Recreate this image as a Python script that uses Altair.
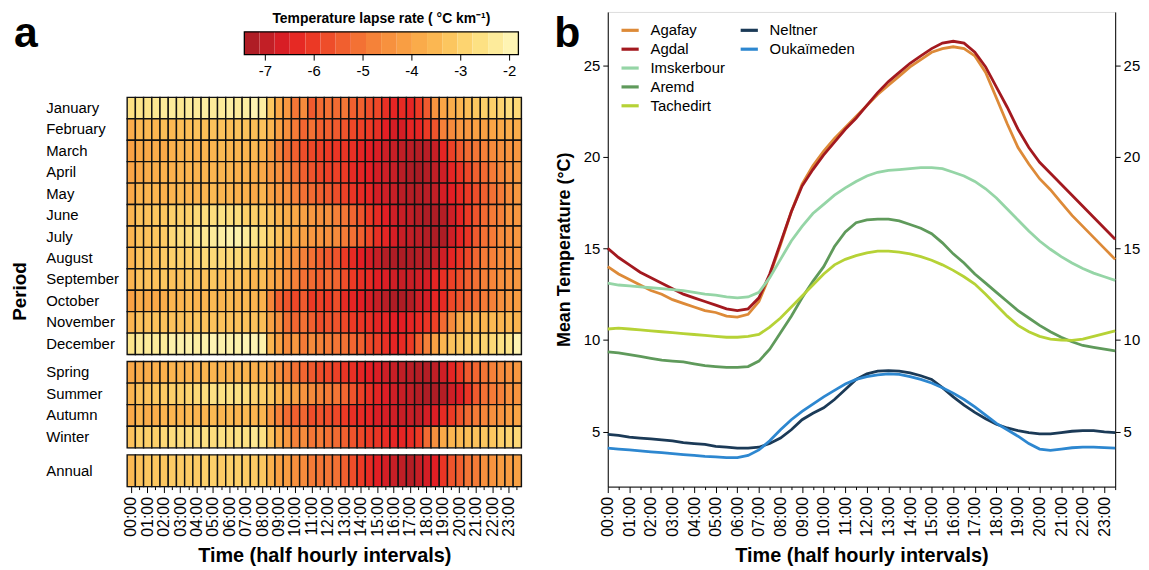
import altair as alt
import pandas as pd

FONT = "Liberation Sans"

# ---------------- Panel a: lapse-rate heat map ----------------
times = ["00:00","00:30","01:00","01:30","02:00","02:30","03:00","03:30","04:00","04:30",
         "05:00","05:30","06:00","06:30","07:00","07:30","08:00","08:30","09:00","09:30",
         "10:00","10:30","11:00","11:30","12:00","12:30","13:00","13:30","14:00","14:30",
         "15:00","15:30","16:00","16:30","17:00","17:30","18:00","18:30","19:00","19:30",
         "20:00","20:30","21:00","21:30","22:00","22:30","23:00","23:30"]

months = ["January","February","March","April","May","June","July","August",
          "September","October","November","December"]
seasons = ["Spring","Summer","Autumn","Winter"]
annual = ["Annual"]

lapse = {
 "January":  [-2.6,-2.5,-2.5,-2.4,-2.3,-2.3,-2.4,-2.3,-2.3,-2.2,-2.3,-2.3,-2.2,-2.3,-2.2,-2.0,-2.2,-3.2,-3.9,-4.3,-5.0,-4.6,-5.5,-5.2,-5.1,-5.2,-5.0,-5.4,-5.4,-5.7,-5.8,-6.2,-6.4,-6.3,-6.4,-6.0,-5.5,-4.4,-4.0,-3.8,-3.6,-3.4,-3.2,-3.0,-3.0,-2.9,-2.7,-2.8],
 "February": [-3.8,-3.5,-3.5,-3.6,-3.4,-3.5,-3.4,-3.4,-3.3,-3.4,-3.3,-3.3,-3.4,-3.3,-3.3,-3.4,-3.3,-3.6,-4.1,-4.5,-4.9,-5.3,-5.1,-5.4,-5.4,-5.5,-5.6,-5.8,-5.9,-6.0,-6.2,-6.5,-6.7,-6.7,-6.4,-6.4,-6.0,-5.6,-4.8,-4.6,-4.3,-4.3,-4.1,-4.1,-4.0,-3.9,-3.8,-3.8],
 "March":    [-4.1,-3.9,-3.9,-3.8,-3.9,-3.7,-3.6,-3.6,-3.7,-3.6,-3.6,-3.5,-3.6,-3.6,-3.6,-3.5,-3.7,-4.2,-4.8,-5.2,-5.4,-5.7,-5.8,-5.9,-6.0,-6.1,-6.1,-6.2,-6.4,-6.5,-6.6,-6.8,-6.9,-7.0,-7.1,-7.2,-7.1,-6.9,-6.4,-5.9,-5.5,-5.2,-5.0,-4.8,-4.6,-4.5,-4.4,-4.3],
 "April":    [-4.0,-3.9,-3.8,-3.8,-3.7,-3.7,-3.6,-3.6,-3.6,-3.6,-3.6,-3.6,-3.6,-3.7,-3.7,-3.8,-3.9,-4.3,-4.5,-4.8,-5.1,-5.4,-5.6,-5.8,-5.9,-5.9,-6.0,-6.3,-6.4,-6.5,-6.7,-6.8,-6.9,-7.1,-7.3,-7.4,-7.2,-7.0,-6.8,-6.4,-6.1,-5.8,-5.4,-5.2,-4.9,-4.7,-4.5,-4.3],
 "May":      [-3.9,-3.6,-3.6,-3.6,-3.7,-3.6,-3.5,-3.6,-3.6,-3.6,-3.5,-3.6,-3.6,-3.7,-3.7,-3.9,-3.6,-4.1,-4.3,-4.5,-4.8,-5.1,-5.2,-5.4,-5.5,-5.7,-5.9,-6.1,-6.3,-6.4,-6.7,-6.8,-6.9,-7.1,-7.2,-7.2,-7.1,-7.0,-6.7,-6.5,-6.3,-6.0,-5.7,-5.4,-5.1,-4.9,-4.6,-4.3],
 "June":     [-3.6,-3.3,-3.3,-3.2,-3.2,-3.0,-3.0,-3.0,-2.8,-2.7,-2.7,-2.6,-2.7,-2.7,-3.0,-3.0,-3.1,-3.3,-3.6,-3.8,-3.9,-4.1,-4.3,-4.5,-4.5,-4.8,-5.0,-5.3,-5.6,-6.0,-6.3,-6.5,-6.8,-6.9,-7.0,-7.2,-7.3,-7.3,-7.2,-6.8,-6.4,-6.0,-5.6,-5.2,-4.9,-4.8,-4.4,-4.3],
 "July":     [-3.6,-3.3,-3.3,-3.2,-3.1,-2.8,-2.7,-2.7,-2.5,-2.4,-2.3,-2.2,-2.1,-2.1,-2.3,-2.5,-2.7,-3.0,-3.3,-3.6,-3.9,-4.1,-4.3,-4.4,-4.5,-4.6,-4.9,-5.1,-5.4,-5.8,-6.2,-6.4,-6.7,-6.9,-7.0,-7.1,-7.2,-7.3,-7.3,-6.8,-6.4,-6.1,-5.5,-5.1,-4.9,-4.6,-4.5,-4.3],
 "August":   [-3.6,-3.3,-3.3,-3.3,-3.1,-3.0,-3.0,-3.0,-2.9,-2.8,-2.8,-2.8,-2.8,-2.8,-2.9,-3.0,-3.2,-3.6,-3.9,-4.3,-4.5,-4.8,-5.1,-5.4,-5.5,-5.6,-6.0,-6.3,-6.5,-6.7,-6.9,-7.2,-7.3,-7.3,-7.3,-7.2,-7.2,-7.0,-6.8,-6.4,-6.1,-5.8,-5.3,-4.9,-4.8,-4.6,-4.5,-4.4],
 "September":[-3.6,-3.3,-3.3,-3.3,-3.2,-3.3,-3.3,-3.2,-3.3,-3.3,-3.2,-3.3,-3.3,-3.3,-3.4,-3.6,-3.4,-3.9,-4.1,-4.5,-4.8,-5.1,-5.2,-5.4,-5.2,-5.3,-5.7,-6.0,-6.2,-6.3,-6.5,-6.6,-6.8,-6.9,-6.9,-6.8,-6.7,-6.4,-6.2,-5.9,-5.7,-5.4,-5.1,-4.8,-4.7,-4.5,-4.4,-4.3],
 "October":  [-4.1,-3.8,-3.9,-3.9,-3.8,-3.6,-3.6,-3.5,-3.6,-3.6,-3.5,-3.6,-3.5,-3.6,-3.5,-3.6,-3.7,-4.7,-5.4,-5.6,-5.8,-5.5,-6.0,-5.9,-6.0,-5.7,-6.3,-6.4,-6.5,-6.7,-6.9,-7.1,-7.3,-7.3,-7.2,-6.8,-6.7,-6.4,-6.3,-5.8,-5.6,-5.4,-5.2,-4.9,-4.8,-4.5,-4.3,-4.2],
 "November": [-3.6,-3.3,-3.3,-3.3,-3.3,-3.3,-3.3,-3.3,-3.2,-3.3,-3.3,-3.3,-3.3,-3.3,-3.3,-3.3,-3.4,-4.1,-4.5,-5.1,-5.3,-5.1,-5.4,-5.7,-5.6,-5.6,-5.8,-6.0,-6.1,-6.2,-6.4,-6.4,-6.5,-6.5,-6.4,-6.3,-6.1,-5.9,-5.2,-4.6,-3.9,-3.8,-3.6,-3.6,-3.5,-3.6,-3.5,-3.6],
 "December": [-2.5,-2.3,-2.3,-2.3,-2.3,-2.1,-2.1,-2.1,-2.2,-2.1,-2.0,-2.1,-2.1,-2.1,-2.0,-2.0,-2.1,-3.6,-4.1,-4.6,-4.3,-4.9,-4.6,-4.8,-4.9,-5.0,-5.1,-5.3,-5.4,-5.8,-5.9,-6.2,-6.4,-6.3,-6.0,-5.4,-4.8,-4.1,-3.6,-3.3,-3.2,-3.1,-3.0,-2.9,-2.8,-2.6,-2.5,-2.0],
 "Spring":   [-3.9,-3.8,-3.8,-3.7,-3.7,-3.6,-3.6,-3.6,-3.6,-3.6,-3.6,-3.6,-3.6,-3.6,-3.6,-3.7,-3.7,-4.1,-4.5,-4.8,-5.1,-5.3,-5.5,-5.7,-5.8,-5.9,-6.1,-6.2,-6.4,-6.5,-6.6,-6.8,-6.9,-7.0,-7.1,-7.2,-7.2,-7.0,-6.8,-6.4,-6.0,-5.5,-5.3,-5.0,-4.8,-4.6,-4.5,-4.3],
 "Summer":   [-3.6,-3.3,-3.3,-3.2,-3.1,-3.0,-3.0,-2.9,-2.8,-2.7,-2.6,-2.6,-2.6,-2.6,-2.7,-2.9,-3.0,-3.2,-3.6,-3.9,-4.1,-4.4,-4.6,-4.8,-4.9,-5.0,-5.3,-5.6,-5.9,-6.2,-6.4,-6.6,-6.8,-6.9,-7.0,-7.2,-7.3,-7.3,-7.2,-6.8,-6.6,-6.1,-5.5,-5.1,-4.9,-4.8,-4.5,-4.4],
 "Autumn":   [-3.9,-3.6,-3.8,-3.8,-3.6,-3.6,-3.6,-3.5,-3.6,-3.6,-3.5,-3.6,-3.5,-3.6,-3.5,-3.6,-3.6,-4.3,-4.8,-5.2,-5.4,-5.3,-5.7,-5.6,-5.7,-5.8,-6.0,-6.2,-6.3,-6.4,-6.6,-6.7,-6.8,-6.9,-6.9,-7.0,-6.7,-6.6,-6.3,-6.0,-5.6,-5.2,-4.9,-4.7,-4.5,-4.4,-4.2,-4.0],
 "Winter":   [-3.3,-3.0,-3.0,-3.0,-2.8,-2.7,-2.7,-2.7,-2.7,-2.6,-2.7,-2.6,-2.7,-2.6,-2.6,-2.4,-2.6,-3.3,-3.9,-4.3,-4.8,-4.6,-5.0,-4.9,-5.1,-5.2,-5.4,-5.6,-5.8,-6.0,-6.1,-6.3,-6.4,-6.4,-6.3,-6.0,-5.2,-4.5,-3.9,-3.6,-3.5,-3.4,-3.3,-3.2,-3.2,-3.0,-2.9,-2.8],
 "Annual":   [-3.5,-3.3,-3.2,-3.2,-3.2,-3.1,-3.1,-3.1,-3.1,-3.0,-3.0,-3.1,-3.0,-3.0,-3.1,-3.1,-3.2,-3.7,-4.1,-4.2,-4.5,-4.6,-4.9,-5.0,-5.0,-5.1,-5.4,-5.7,-6.0,-6.3,-6.5,-6.7,-6.9,-7.0,-7.2,-6.9,-6.7,-6.5,-6.1,-5.6,-5.4,-5.0,-4.9,-4.5,-4.4,-4.2,-4.2,-4.1],
}

# colour key (stepped bar), its ticks and labels
legend_lo = [-7.43,-7.12,-6.81,-6.50,-6.18,-5.87,-5.56,-5.25,-4.94,-4.63,-4.31,-4.00,-3.69,-3.38,-3.07,-2.76,-2.44,-2.13]
legend_hi = [-7.12,-6.81,-6.50,-6.18,-5.87,-5.56,-5.25,-4.94,-4.63,-4.31,-4.00,-3.69,-3.38,-3.07,-2.76,-2.44,-2.13,-1.82]
legend_mid = [-7.28,-6.97,-6.66,-6.34,-6.03,-5.72,-5.41,-5.10,-4.78,-4.47,-4.16,-3.85,-3.54,-3.22,-2.91,-2.60,-2.29,-1.98]
legend_ticks = [-7, -6, -5, -4, -3, -2]
legend_tick_labels = ["-7", "-6", "-5", "-4", "-3", "-2"]
legend_title = "Temperature lapse rate ( °C km⁻¹)"

color_domain = [-7.43, -7.0, -6.5, -6.0, -5.5, -5.0, -4.5, -4.0, -3.5, -3.0, -2.5, -1.82]
color_range = ["#a61c24", "#c01f26", "#e31e24", "#ec3a25", "#f05a2e", "#f47636",
               "#f7903e", "#faa546", "#fbb953", "#fdd06a", "#fde58a", "#fff8c0"]

# ---------------- Panel b: mean temperature lines ----------------
hours = [0.0,0.5,1.0,1.5,2.0,2.5,3.0,3.5,4.0,4.5,5.0,5.5,6.0,6.5,7.0,7.5,8.0,8.5,9.0,9.5,
         10.0,10.5,11.0,11.5,12.0,12.5,13.0,13.5,14.0,14.5,15.0,15.5,16.0,16.5,17.0,17.5,
         18.0,18.5,19.0,19.5,20.0,20.5,21.0,21.5,22.0,22.5,23.0,23.5]
temp_ticks = [5, 10, 15, 20, 25]

stations1 = ["Agafay", "Agdal", "Imskerbour", "Aremd", "Tachedirt"]
colors1 = ["#dd8a38", "#a3191f", "#95d5a6", "#5f9a5b", "#b6d236"]
stations2 = ["Neltner", "Oukaïmeden"]
colors2 = ["#1b3a57", "#2d87d0"]

temps = {
 "Agafay":     [14.0,13.6,13.3,13.0,12.7,12.5,12.2,12.0,11.8,11.6,11.5,11.3,11.25,11.4,12.1,13.5,15.2,17.0,18.5,19.5,20.3,21.0,21.6,22.2,22.8,23.4,23.9,24.4,24.9,25.3,25.7,25.9,26.0,25.9,25.5,24.6,23.2,21.8,20.5,19.6,18.8,18.2,17.5,16.8,16.2,15.6,15.0,14.4],
 "Agdal":      [15.0,14.5,14.1,13.7,13.4,13.1,12.8,12.5,12.3,12.1,11.9,11.7,11.6,11.7,12.3,13.6,15.3,17.0,18.4,19.3,20.1,20.8,21.5,22.1,22.8,23.5,24.1,24.6,25.1,25.5,25.9,26.2,26.3,26.2,25.7,24.9,23.8,22.7,21.5,20.5,19.7,19.1,18.5,17.9,17.3,16.7,16.1,15.5],
 "Imskerbour": [13.1,13.0,12.95,12.9,12.85,12.8,12.75,12.7,12.6,12.5,12.45,12.35,12.3,12.35,12.6,13.4,14.4,15.4,16.2,16.9,17.4,17.9,18.3,18.65,18.95,19.15,19.25,19.3,19.35,19.4,19.4,19.35,19.15,18.95,18.65,18.25,17.75,17.15,16.55,15.95,15.4,14.95,14.55,14.2,13.9,13.65,13.45,13.25],
 "Aremd":      [9.35,9.3,9.2,9.1,9.0,8.9,8.85,8.8,8.7,8.6,8.55,8.5,8.5,8.55,8.85,9.5,10.4,11.3,12.3,13.2,14.0,15.1,15.9,16.4,16.55,16.6,16.6,16.5,16.3,16.1,15.8,15.3,14.7,14.2,13.6,13.1,12.6,12.1,11.6,11.2,10.8,10.45,10.15,9.9,9.7,9.6,9.5,9.4],
 "Tachedirt":  [10.6,10.65,10.6,10.55,10.5,10.45,10.4,10.35,10.3,10.25,10.2,10.15,10.15,10.2,10.3,10.7,11.2,11.8,12.4,13.0,13.6,14.1,14.4,14.6,14.75,14.85,14.85,14.8,14.7,14.55,14.35,14.1,13.8,13.45,13.05,12.5,11.9,11.3,10.8,10.45,10.2,10.05,10.0,9.98,10.05,10.2,10.35,10.5],
 "Neltner":    [4.85,4.8,4.7,4.65,4.6,4.55,4.5,4.4,4.35,4.3,4.2,4.15,4.1,4.1,4.15,4.35,4.65,5.1,5.65,6.0,6.3,6.75,7.3,7.85,8.15,8.3,8.33,8.3,8.2,8.05,7.85,7.4,6.9,6.45,6.05,5.7,5.4,5.2,5.05,4.95,4.88,4.88,4.95,5.02,5.05,5.05,4.98,4.95],
 "Oukaïmeden": [4.1,4.05,4.0,3.95,3.9,3.85,3.8,3.75,3.7,3.65,3.62,3.58,3.58,3.7,4.0,4.5,5.1,5.65,6.1,6.5,6.9,7.25,7.6,7.85,8.0,8.1,8.15,8.12,8.0,7.85,7.65,7.4,7.1,6.75,6.35,5.9,5.45,5.1,4.75,4.35,4.05,3.98,4.05,4.12,4.15,4.15,4.13,4.1],
}

for k, v in lapse.items():
    assert len(v) == 48, (k, len(v))
for k, v in temps.items():
    assert len(v) == 48, (k, len(v))

# ---------------- build tables ----------------
def heat_df(rows):
    recs = []
    for r in rows:
        for t, val in zip(times, lapse[r]):
            recs.append({"period": r, "time": t, "value": val})
    return pd.DataFrame(recs)

def line_df(names):
    recs = []
    for s in names:
        for h, val in zip(hours, temps[s]):
            recs.append({"station": s, "hour": h, "temp": val})
    return pd.DataFrame(recs)

color_scale = alt.Scale(domain=color_domain, range=color_range, clamp=True)
HEAT_W = 397
LABEL_PAD = 82
XTITLE = 20
TLAB = 16
PANEL_LETTER = 43

hour_label_expr = "slice(datum.value, 3) == '00' ? datum.value : ''"
tick_cond_heat = {"condition": {"test": "slice(datum.value, 3) == '00'", "value": 6}, "value": 3}


def heat_chart(rows, height, xaxis, yaxis):
    return alt.Chart(heat_df(rows)).mark_rect(stroke="#111111", strokeWidth=1.4).encode(
        x=alt.X("time:O", sort=times, scale=alt.Scale(paddingInner=0, paddingOuter=0), axis=xaxis),
        y=alt.Y("period:O", sort=rows, scale=alt.Scale(paddingInner=0, paddingOuter=0), axis=yaxis),
        color=alt.Color("value:Q", scale=color_scale, legend=None),
    ).properties(width=HEAT_W, height=height)


ylab = dict(labelAlign="left", labelPadding=LABEL_PAD, ticks=False, domain=False,
            labelFontSize=15, labelFont=FONT, labelColor="black")

# --- colour key chart (top of panel a) ---
key_x = alt.Scale(domain=[-7.43, -1.82], range=[118, 394], nice=False, zero=False)
key_bands = pd.DataFrame({"lo": legend_lo, "hi": legend_hi, "mid": legend_mid})
key_frame = pd.DataFrame({"lo": [legend_lo[0]], "hi": [legend_hi[-1]]})
key_ticks = pd.DataFrame({"v": legend_ticks, "lab": legend_tick_labels})

bands = alt.Chart(key_bands).mark_rect().encode(
    x=alt.X("lo:Q", scale=key_x, axis=None), x2="hi:Q",
    y=alt.value(20), y2=alt.value(43),
    color=alt.Color("mid:Q", scale=color_scale, legend=None),
)
frame = alt.Chart(key_frame).mark_rect(fillOpacity=0, stroke="black", strokeWidth=1.3).encode(
    x=alt.X("lo:Q", scale=key_x, axis=None), x2="hi:Q", y=alt.value(20), y2=alt.value(43))
kticks = alt.Chart(key_ticks).mark_rule(color="black", strokeWidth=1).encode(
    x=alt.X("v:Q", scale=key_x, axis=None), y=alt.value(43), y2=alt.value(49))
klabels = alt.Chart(key_ticks).mark_text(font=FONT, fontSize=15, color="black", baseline="middle").encode(
    x=alt.X("v:Q", scale=key_x, axis=None), y=alt.value(60), text="lab:N")
ktitle = alt.Chart(pd.DataFrame({"t": [legend_title]})).mark_text(
    font=FONT, fontSize=14, fontWeight="bold", color="black", baseline="middle").encode(
    x=alt.value(256), y=alt.value(7), text="t:N")
a_label = alt.Chart(pd.DataFrame({"t": ["a"]})).mark_text(
    font=FONT, fontSize=PANEL_LETTER, fontWeight="bold", align="left", baseline="alphabetic", color="black"
).encode(x=alt.value(-114), y=alt.value(35), text="t:N")

key_chart = alt.layer(bands, frame, kticks, klabels, ktitle, a_label).properties(
    width=HEAT_W, height=80, view={"stroke": "transparent"})

months_chart = heat_chart(
    months, 259, None,
    alt.Axis(title="Period", titleX=-98, titleY=195, titleFont=FONT, titleFontSize=19,
             titleFontWeight="bold", titleColor="black", **ylab),
)
seasons_chart = heat_chart(seasons, 87, None, alt.Axis(title=None, **ylab))
annual_chart = heat_chart(
    annual, 32,
    alt.Axis(title="Time (half hourly intervals)", labelAngle=270, labelExpr=hour_label_expr,
             tickSize=tick_cond_heat, tickColor="black", domain=False, labelPadding=4,
             labelFont=FONT, labelFontSize=TLAB, labelColor="black", titleFont=FONT,
             titleFontSize=XTITLE, titleFontWeight="bold", titleColor="black", titlePadding=9),
    alt.Axis(title=None, **ylab),
)

panel_a = alt.vconcat(key_chart, months_chart, seasons_chart, annual_chart, spacing=3).resolve_scale(
    color="independent", x="independent")

# ---------------- panel b ----------------
x_enc = alt.X(
    "hour:Q",
    scale=alt.Scale(domain=[0, 23.5], nice=False, zero=False),
    axis=alt.Axis(values=hours, labelExpr="datum.value % 1 == 0 ? (datum.value < 10 ? '0' : '') + datum.value + ':00' : ''",
                  labelAngle=270, tickSize={"condition": {"test": "datum.value % 1 == 0", "value": 6}, "value": 3},
                  title="Time (half hourly intervals)", titlePadding=9, labelPadding=4,
                  labelFont=FONT, labelFontSize=TLAB, labelColor="black", tickColor="black",
                  domainColor="black", titleFont=FONT, titleFontSize=XTITLE, titleFontWeight="bold",
                  titleColor="black", grid=False),
)
y_scale = alt.Scale(domain=[2.0, 27.9], nice=False, zero=False)
y_axis_common = dict(values=temp_ticks, grid=False, tickSize=5, tickColor="black", domainColor="black",
                     labelFont=FONT, labelFontSize=15, labelColor="black", labelPadding=3)

leg_common = dict(orient="none", title=None, symbolType="stroke", symbolStrokeWidth=3.2,
                  symbolSize=300, labelFont=FONT, labelFontSize=15, labelColor="black",
                  rowPadding=0, labelOffset=10, symbolOffset=0)

lines1 = alt.Chart(line_df(stations1)).mark_line(strokeWidth=2.8).encode(
    x=x_enc,
    y=alt.Y("temp:Q", scale=y_scale,
            axis=alt.Axis(orient="left", title="Mean Temperature (°C)", titleFont=FONT, titleFontSize=18,
                          titleFontWeight="bold", titleColor="black", titlePadding=10, **y_axis_common)),
    color=alt.Color("station:N", scale=alt.Scale(domain=stations1, range=colors1),
                    legend=alt.Legend(legendX=12, legendY=8, **leg_common)),
    detail="station:N",
)
lines2 = alt.Chart(line_df(stations2)).mark_line(strokeWidth=2.8).encode(
    x=x_enc,
    y=alt.Y("temp:Q", scale=y_scale, axis=alt.Axis(orient="right", title=None, **y_axis_common)),
    color=alt.Color("station:N", scale=alt.Scale(domain=stations2, range=colors2),
                    legend=alt.Legend(legendX=132, legendY=8, **leg_common)),
    detail="station:N",
)
b_label = alt.Chart(pd.DataFrame({"t": ["b"]})).mark_text(
    font=FONT, fontSize=PANEL_LETTER, fontWeight="bold", align="left", baseline="alphabetic", color="black"
).encode(x=alt.value(-54), y=alt.value(35), text="t:N")

panel_b = alt.layer(lines1, lines2, b_label).resolve_scale(color="independent").resolve_axis(
    y="independent").resolve_legend(color="independent").properties(width=511, height=478)

chart = alt.concat(panel_a, panel_b, columns=2, align="none", spacing=28).resolve_scale(
    color="independent", x="independent", y="independent").resolve_legend(color="independent").properties(
    padding={"left": 2, "top": 1, "right": 0, "bottom": 0}).configure_view(
    stroke="black", strokeWidth=1).configure(font=FONT)

chart.save("out.html", embed_options={"renderer": "svg", "actions": False})
